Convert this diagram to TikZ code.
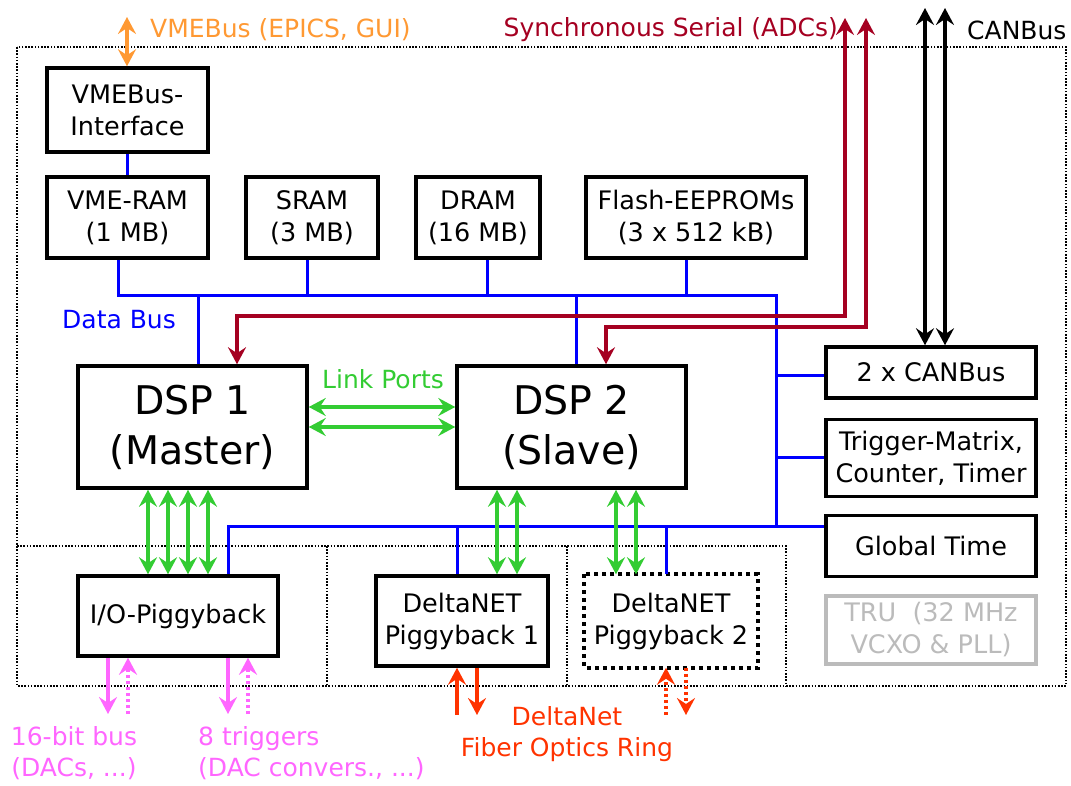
\documentclass[tikz,border=0pt]{standalone}
\usepackage{fontspec}
\setmainfont{DejaVu Sans}
\usetikzlibrary{arrows.meta,calc}

\definecolor{vmeorange}{HTML}{FF9933}
\definecolor{serialred}{HTML}{A50021}
\definecolor{busblue}{HTML}{0000FF}
\definecolor{linkgreen}{HTML}{33CC33}
\definecolor{piggymagenta}{HTML}{FF66FF}
\definecolor{fiberred}{HTML}{FF3300}
\definecolor{trugray}{HTML}{BBBBBB}

\begin{document}
\begin{tikzpicture}[x=1pt,y=-1pt,
  >={Stealth[length=17pt,width=18pt,inset=6pt]},
  box/.style={draw, line width=3.5pt, align=center, inner sep=0pt,
              font=\fontsize{25.5}{32}\selectfont},
  bigbox/.style={box, font=\fontsize{39.5}{50}\selectfont},
  lbl/.style={inner sep=0pt, align=center, font=\fontsize{25}{31}\selectfont},
  frame/.style={line width=1.6pt, dash pattern=on 1.6pt off 1.6pt},
  bus/.style={busblue, line width=3pt},
  link/.style={linkgreen, line width=3.5pt, <->},
  serial/.style={serialred, line width=3.5pt, <->},
  can/.style={black, line width=3.5pt, <->},
  piggy/.style={piggymagenta, line width=3.5pt},
  fiber/.style={fiberred, line width=3.5pt},
  dots/.style={dash pattern=on 3pt off 3pt}]

\useasboundingbox (0,0) rectangle (1071,786);

% board outline and piggyback slots
\draw[frame] (17,47) rectangle (1066,686);
\draw[frame] (17,546) -- (786,546) -- (786,686);
\draw[frame] (327,546) -- (327,686);
\draw[frame] (567,546) -- (567,686);

% memory and interface blocks
\node[box, minimum width=161pt, minimum height=84pt] (vmeif) at (127.5,110) {VMEBus-\\Interface};
\node[box, minimum width=161pt, minimum height=81pt] (vmeram) at (127.5,217.5) {VME-RAM\\(1 MB)};
\node[box, minimum width=132pt, minimum height=81pt] (sram) at (312,217.5) {SRAM\\(3 MB)};
\node[box, minimum width=124pt, minimum height=81pt] (dram) at (478,217.5) {DRAM\\(16 MB)};
\node[box, minimum width=220pt, minimum height=81pt] (flash) at (696,217.5) {Flash-EEPROMs\\(3 x 512 kB)};

% processors
\node[bigbox, minimum width=229pt, minimum height=122pt] (dsp1) at (192.5,427) {DSP 1\\(Master)};
\node[bigbox, minimum width=229pt, minimum height=122pt] (dsp2) at (571.5,427) {DSP 2\\(Slave)};

% peripheral blocks on the right
\node[box, minimum width=210pt, minimum height=51pt] (canbus) at (931,372.5) {2 x CANBus};
\node[box, minimum width=210pt, minimum height=77pt] (trig) at (931,458) {Trigger-Matrix,\\Counter, Timer};
\node[box, minimum width=210pt, minimum height=61pt] (gtime) at (931,546) {Global Time};
\node[box, draw=trugray, text=trugray, minimum width=210pt, minimum height=68pt] (tru) at (931,630) {TRU\ \ (32 MHz\\VCXO \& PLL)};

% piggyback boards
\node[box, minimum width=200pt, minimum height=80pt] (iopig) at (178,616) {I/O-Piggyback};
\node[box, minimum width=172pt, minimum height=90pt] (dn1) at (462,621) {DeltaNET\\Piggyback 1};
\node[box, draw=none, minimum width=170pt, minimum height=90pt] (dn2) at (671,621) {DeltaNET\\Piggyback 2};
\draw[line width=4pt, dash pattern=on 4pt off 4pt] (dn2.north west) rectangle (dn2.south east);

% data bus
\draw[bus] (vmeif) -- (vmeram);
\draw[bus] (vmeram.south -| 118,0) -- (118,296) -- (776,296) -- (776,526) -- (gtime.west |- 0,526);
\draw[bus] (sram.south -| 307,0) -- (307,296);
\draw[bus] (dram.south -| 487,0) -- (487,296);
\draw[bus] (flash.south -| 686,0) -- (686,296);
\draw[bus] (dsp1.north -| 198,0) -- (198,296);
\draw[bus] (dsp2.north -| 576,0) -- (576,296);
\draw[bus] (canbus.west |- 0,375) -- (776,375);
\draw[bus] (trig.west |- 0,457) -- (776,457);
\draw[bus] (iopig.north -| 228,0) -- (228,526) -- (776,526);
\draw[bus] (dn1.north -| 457,0) -- (457,526);
\draw[bus] (dn2.north -| 666,0) -- (666,526);

% external connections at the top
\coordinate (vmeext) at (127,17);
\coordinate (sync1) at (845,18);
\coordinate (sync2) at (866,18);
\coordinate (can1) at (925,8);
\coordinate (can2) at (945,8);
\draw[vmeorange, line width=3.5pt, <->] (vmeif.north -| vmeext) -- (vmeext);
\draw[serial] (dsp1.north -| 237,0) -- (237,316) -- (845,316) -- (sync1);
\draw[serial] (dsp2.north -| 606,0) -- (606,327) -- (866,327) -- (sync2);
\draw[can] (canbus.north -| can1) -- (can1);
\draw[can] (canbus.north -| can2) -- (can2);

% link ports
\draw[link] (dsp1.east |- 0,407) -- (dsp2.west |- 0,407);
\draw[link] (dsp1.east |- 0,427) -- (dsp2.west |- 0,427);

% DSP to piggyback links
\foreach \x in {148,168,188,208}
  \draw[link] (dsp1.south -| \x,0) -- (iopig.north -| \x,0);
\foreach \x in {497,517}
  \draw[link] (dsp2.south -| \x,0) -- (dn1.north -| \x,0);
\foreach \x in {616,636}
  \draw[link] (dsp2.south -| \x,0) -- (dn2.north -| \x,0);

% I/O lines
\coordinate (io1) at (108,714);
\coordinate (io2) at (128,714);
\coordinate (io3) at (228,714);
\coordinate (io4) at (248,714);
\draw[piggy, ->] (iopig.south -| io1) -- (io1);
\draw[piggy, dots, ->] (io2) -- (iopig.south -| io2);
\draw[piggy, ->] (iopig.south -| io3) -- (io3);
\draw[piggy, dots, ->] (io4) -- (iopig.south -| io4);

% fiber ring
\coordinate (fb1) at (457,715);
\coordinate (fb2) at (477,715);
\coordinate (fb3) at (666,715);
\coordinate (fb4) at (686,715);
\draw[fiber, ->] (fb1) -- (dn1.south -| fb1);
\draw[fiber, ->] (dn1.south -| fb2) -- (fb2);
\draw[fiber, dots, ->] (fb3) -- (dn2.south -| fb3);
\draw[fiber, dots, ->] (dn2.south -| fb4) -- (fb4);

% labels
\node[lbl, text=vmeorange, anchor=west] (lvme) at (150,30) {VMEBus (EPICS, GUI)};
\node[lbl, text=serialred, anchor=east] (lsync) at (838,30) {Synchronous Serial (ADCs)};
\node[lbl, anchor=west] (lcan) at (967,30) {CANBus};
\node[lbl, text=busblue, anchor=west] (lbus) at (62,320) {Data Bus};
\node[lbl, text=linkgreen] (llink) at (383,379) {Link Ports};
\node[lbl, text=piggymagenta] (lbits) at (74,753) {16-bit bus\\(DACs, ...)};
\node[lbl, text=piggymagenta, align=left, anchor=west] (ltrig) at (198,753) {8 triggers\\(DAC convers., ...)};
\node[lbl, text=fiberred] (lring) at (567,734) {DeltaNet\\Fiber Optics Ring};
\end{tikzpicture}
\end{document}
